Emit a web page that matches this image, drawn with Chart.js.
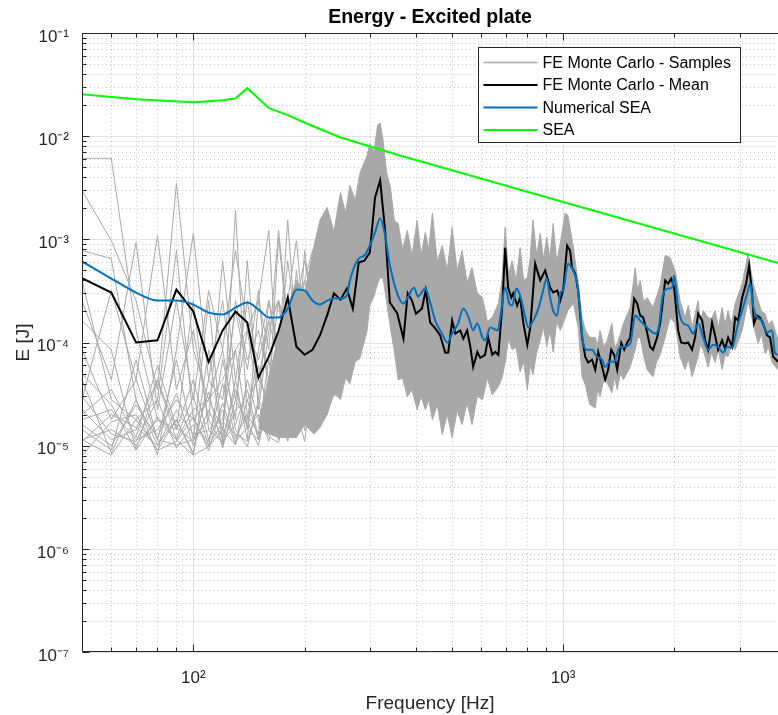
<!DOCTYPE html>
<html>
<head>
<meta charset="utf-8">
<title>Energy - Excited plate</title>
<script src="https://cdn.jsdelivr.net/npm/chart.js@4.4.1/dist/chart.umd.min.js"></script>
<style>
  html, body { margin: 0; padding: 0; background: #fff; }
  #wrap { width: 778px; height: 715px; }
</style>
</head>
<body>
<div id="wrap"><canvas id="myChart" width="778" height="715"></canvas></div>
<script>
// ---- data (frequency in Hz, energy in J) ----

// low-frequency Monte Carlo samples (individual curves)
const lowFreq = [50, 60, 70, 80, 90, 100, 110, 120, 130, 140, 150, 160, 170, 180, 190, 200, 210, 220, 230, 240, 250];
const lowSamples = [
  [6.1e-3, 6.1e-3, 1.31e-4, 1.79e-5, 1.14e-5, 2.23e-5, 2.79e-5, 4.36e-5, 8.5e-5, 1.31e-4, 6.8e-5, 1.63e-4, 2.55e-4, 1.31e-4, 2.04e-4, 3.19e-4, 2.55e-4, 4.0e-4, 2.55e-4, 5.0e-4, 3.19e-4],
  [2.98e-3, 9.7e-4, 2.55e-4, 3.49e-5, 3.49e-3, 8.5e-5, 2.79e-5, 1.43e-5, 2.55e-4, 6.8e-5, 1.31e-4, 4.36e-5, 2.55e-4, 8.5e-5, 3.19e-4, 1.63e-4, 2.55e-4, 3.19e-4, 6.2e-4, 2.04e-4, 7.8e-4],
  [7.8e-4, 6.5e-4, 2.79e-5, 1.02e-5, 1.79e-5, 8.5e-6, 4.36e-5, 2.55e-4, 2.79e-5, 1.31e-4, 2.79e-5, 2.55e-4, 8.5e-5, 6.2e-4, 1.31e-4, 4.0e-4, 2.04e-4, 5.0e-4, 1.63e-4, 4.0e-4, 2.55e-4],
  [2.55e-4, 4.36e-5, 9.3e-4, 2.23e-5, 2.55e-4, 2.79e-5, 3.19e-4, 8.5e-5, 7.8e-4, 1.31e-4, 2.55e-4, 8.5e-5, 1.22e-3, 1.63e-4, 2.55e-4, 6.2e-4, 2.55e-4, 4.0e-4, 7.8e-4, 2.55e-4, 5.0e-4],
  [8.5e-5, 1.79e-5, 4.36e-5, 1.09e-3, 3.49e-5, 1.31e-4, 1.79e-5, 6.2e-4, 4.36e-5, 2.55e-4, 4.36e-5, 1.63e-4, 6.8e-5, 2.55e-4, 9.7e-4, 1.31e-4, 3.19e-4, 2.55e-4, 4.0e-4, 7.8e-4, 2.55e-4],
  [4.36e-5, 8.5e-6, 2.79e-5, 8.1e-6, 8.5e-5, 1.14e-3, 4.36e-5, 2.79e-5, 2.04e-4, 5.45e-5, 3.19e-4, 2.79e-5, 1.05e-3, 1.31e-4, 2.55e-4, 4.0e-4, 7.8e-4, 5.0e-4, 2.04e-4, 6.2e-4, 4.0e-4],
  [2.23e-5, 1.14e-5, 1.43e-5, 4.36e-5, 1.14e-5, 8.1e-6, 8.5e-5, 1.14e-5, 1.91e-3, 1.79e-5, 8.5e-5, 2.55e-4, 6.8e-5, 1.53e-3, 1.05e-4, 2.55e-4, 4.0e-4, 3.19e-4, 9.7e-4, 2.55e-4, 6.2e-4],
  [1.79e-5, 2.23e-5, 1.14e-5, 1.43e-5, 2.79e-5, 1.79e-5, 9.8e-6, 6.8e-5, 1.79e-5, 6.2e-4, 2.23e-5, 1.31e-4, 2.55e-4, 4.36e-5, 5.0e-4, 8.5e-5, 6.2e-4, 6.2e-4, 2.55e-4, 4.0e-4, 7.8e-4],
  [1.43e-5, 9.1e-6, 6.8e-5, 1.14e-5, 1.02e-5, 1.14e-5, 1.79e-5, 1.02e-5, 4.36e-5, 1.14e-5, 2.55e-4, 1.22e-3, 2.79e-5, 1.31e-4, 5.45e-5, 7.8e-4, 1.63e-4, 7.8e-4, 3.19e-4, 1.31e-4, 4.0e-4],
  [1.14e-5, 1.43e-5, 1.02e-5, 1.79e-5, 1.43e-5, 4.36e-5, 1.14e-5, 2.23e-5, 1.02e-5, 2.79e-5, 1.14e-5, 4.36e-5, 1.79e-5, 2.55e-4, 3.49e-5, 1.31e-4, 2.55e-4, 6.2e-4, 2.55e-4, 5.0e-4, 2.04e-4],
  [4.0e-4, 2.79e-5, 1.79e-5, 2.79e-5, 7.8e-4, 1.79e-5, 2.79e-5, 8.5e-5, 1.43e-5, 9.8e-6, 2.79e-5, 1.79e-5, 4.36e-5, 8.5e-5, 1.31e-4, 8.5e-5, 3.19e-4, 4.46e-4, 1.31e-4, 3.19e-4, 6.2e-4],
  [1.14e-5, 8.1e-6, 1.79e-5, 9.1e-6, 1.79e-5, 8.1e-6, 9.8e-6, 1.43e-5, 1.02e-5, 4.36e-5, 1.79e-5, 1.22e-5, 1.07e-5, 2.79e-5, 6.8e-5, 2.55e-4, 1.31e-4, 3.19e-4, 5.0e-4, 2.04e-4, 3.19e-4],
  [1.63e-4, 8.5e-5, 9.1e-6, 4.36e-5, 1.43e-5, 2.55e-4, 1.43e-5, 1.79e-5, 8.5e-5, 1.43e-5, 1.14e-5, 2.23e-5, 1.31e-4, 1.14e-5, 2.23e-5, 5.45e-5, 1.05e-4, 2.55e-4, 8.5e-5, 2.55e-4, 1.31e-4],
  [2.79e-5, 3.19e-4, 4.36e-5, 1.14e-5, 6.8e-5, 1.14e-5, 2.55e-4, 1.02e-5, 2.23e-5, 2.79e-5, 4.36e-5, 2.79e-5, 1.14e-5, 2.55e-4, 1.79e-5, 2.79e-5, 8.5e-5, 2.04e-4, 1.31e-4, 6.8e-5, 2.55e-4],
  [1.6e-5, 1.0e-5, 2.5e-5, 1.2e-5, 3.2e-5, 1.0e-5, 2.2e-5, 1.2e-5, 3.5e-5, 1.5e-5, 6.0e-5, 1.8e-5, 9.0e-5, 2.5e-5, 1.5e-4, 4.5e-5, 2.0e-4, 8.0e-5, 3.0e-4, 1.5e-4, 2.0e-4],
  [3.0e-5, 1.3e-5, 1.1e-5, 2.8e-5, 9.5e-6, 1.6e-5, 1.1e-5, 4.0e-5, 1.2e-5, 2.0e-5, 1.3e-5, 7.0e-5, 1.5e-5, 4.0e-5, 1.0e-4, 3.0e-5, 1.2e-4, 6.0e-5, 2.0e-4, 1.0e-4, 3.5e-4],
  [1.1e-5, 2.0e-5, 1.5e-5, 1.0e-5, 2.2e-5, 1.3e-5, 1.4e-5, 1.1e-5, 1.6e-5, 3.5e-5, 1.2e-5, 2.0e-5, 6.0e-5, 1.8e-5, 4.0e-5, 2.0e-4, 5.0e-5, 1.5e-4, 6.0e-5, 2.5e-4, 1.2e-4],
  [5.0e-5, 2.5e-5, 9.0e-6, 1.9e-5, 1.2e-5, 3.0e-5, 1.0e-5, 1.7e-5, 1.3e-5, 1.1e-5, 2.5e-5, 1.4e-5, 2.2e-5, 1.1e-5, 8.0e-5, 1.4e-5, 7.0e-5, 3.5e-5, 1.1e-4, 4.0e-4, 1.8e-4],
  [2.0e-5, 3.5e-5, 1.2e-5, 6.0e-5, 1.5e-5, 1.1e-5, 3.3e-5, 9.5e-6, 2.8e-5, 1.7e-5, 1.0e-5, 3.0e-5, 1.2e-5, 5.0e-5, 1.2e-5, 9.0e-5, 2.0e-5, 1.0e-4, 4.0e-5, 1.8e-4, 5.0e-4],
  [8.0e-6, 1.7e-5, 2.0e-5, 9.0e-6, 1.1e-5, 1.9e-5, 9.0e-6, 2.6e-5, 1.1e-5, 1.5e-5, 2.0e-5, 1.1e-5, 3.5e-5, 1.3e-5, 2.2e-5, 1.1e-5, 4.5e-5, 2.2e-5, 7.0e-5, 3.0e-5, 1.4e-4]
];

// above ~150 Hz the samples form a dense band: its upper and lower edge
const bandFreq = [150, 160, 170, 190, 200, 212, 220, 230, 240, 250, 258, 265,
  274, 282, 295, 300, 308, 315, 320, 326, 333, 341,
  350, 358, 368, 379, 390, 403, 413, 424, 433, 443,
  457, 471, 486, 501, 517, 533, 550, 567, 586, 605,
  624, 643, 668, 683, 697, 712, 728, 746, 765, 782,
  800, 814, 829, 848, 867, 885, 903, 921, 940, 961,
  982, 1012, 1030, 1066, 1098, 1125, 1150, 1180, 1221, 1240,
  1258, 1290, 1316, 1354, 1378, 1400, 1428, 1455, 1518, 1566,
  1590, 1615, 1650, 1687, 1750, 1790, 1829, 1887, 1946, 2008,
  2071, 2137, 2180, 2232, 2317, 2350, 2391, 2466, 2520, 2575,
  2630, 2690, 2740, 2793, 2850, 2918, 3048, 3163, 3263, 3366,
  3440, 3516, 3590, 3672, 3811];
const bandUpper = [1.7e-5, 4.5e-5, 1.2e-4, 4.0e-4, 3.0e-4, 8.7e-4, 1.53e-3, 2.04e-3, 1.2e-3, 2.85e-3, 1.8e-3, 3.33e-3,
  2.4e-3, 4.36e-3, 6.5e-3, 8.5e-3, 7.0e-3, 1.28e-2, 1.34e-2, 9.1e-3, 4.5e-3, 3.19e-3,
  1.5e-3, 1.43e-3, 8.0e-4, 1.22e-3, 7.0e-4, 1.53e-3, 7.0e-4, 1.17e-3, 8.0e-4, 1.79e-3,
  6.0e-4, 8.7e-4, 5.0e-4, 1.31e-3, 5.0e-4, 7.8e-4, 3.8e-4, 5.3e-4, 3.0e-4, 2.73e-4,
  1.6e-4, 1.75e-4, 2.39e-4, 4.0e-4, 1.31e-3, 4.5e-4, 6.2e-4, 4.0e-4, 8.3e-4, 4.0e-4,
  4.26e-4, 6.5e-4, 1.53e-3, 7.0e-4, 1.14e-3, 6.5e-4, 1.05e-3, 6.5e-4, 1.43e-3, 6.0e-4,
  9.1e-4, 1.79e-3, 1.71e-3, 8.3e-4, 3.73e-4, 1.75e-4, 1.3e-4, 1.12e-4, 1.12e-4, 9.5e-5,
  1.31e-4, 9.0e-5, 1.05e-4, 1.53e-4, 9.0e-5, 9.8e-5, 1.2e-4, 1.53e-4, 2.18e-4, 5.3e-4,
  3.2e-4, 3.99e-4, 2.5e-4, 2.73e-4, 2.18e-4, 2.8e-4, 3.57e-4, 6.96e-4, 6.66e-4, 4.98e-4,
  2.55e-4, 1.75e-4, 2.3e-4, 1.40e-4, 2.55e-4, 1.6e-4, 2.04e-4, 1.75e-4, 1.7e-4, 2.04e-4,
  1.4e-4, 2.18e-4, 1.5e-4, 2.04e-4, 1.5e-4, 2.39e-4, 3.73e-4, 7.3e-4, 3.73e-4, 2.55e-4,
  2.0e-4, 1.91e-4, 1.5e-4, 1.63e-4, 1.05e-4];
const bandLower = [1.5e-5, 1.3e-5, 1.2e-5, 1.2e-5, 1.6e-5, 1.3e-5, 1.5e-5, 2.0e-5, 3.2e-5, 2.8e-5, 4.5e-5, 4.0e-5,
  6.5e-5, 7.0e-5, 1.3e-4, 2.28e-4, 2.8e-4, 3.73e-4, 4.26e-4, 4.17e-4, 2.5e-4, 1.40e-4,
  8.0e-5, 4.36e-5, 4.5e-5, 2.98e-5, 3.5e-5, 2.23e-5, 3.0e-5, 2.23e-5, 2.8e-5, 1.79e-5,
  2.5e-5, 1.28e-5, 2.0e-5, 1.2e-5, 2.2e-5, 1.6e-5, 2.6e-5, 1.6e-5, 3.0e-5, 2.79e-5,
  4.5e-5, 3.12e-5, 3.73e-5, 4.5e-5, 6.4e-5, 1.1e-4, 8.5e-5, 9.0e-5, 5.2e-5, 6.5e-5,
  3.49e-5, 6.0e-5, 4.87e-5, 8.0e-5, 1.05e-4, 1.4e-4, 9.1e-5, 1.3e-4, 8.1e-5, 1.6e-4,
  1.31e-4, 1.71e-4, 2.04e-4, 2.39e-4, 1.40e-4, 4.66e-5, 3.8e-5, 2.5e-5, 2.33e-5, 3.5e-5,
  2.98e-5, 4.5e-5, 4.08e-5, 3.26e-5, 4.6e-5, 3.49e-5, 5.0e-5, 4.36e-5, 5.8e-5, 8.5e-5,
  1.1e-4, 1.12e-4, 7.5e-5, 5.45e-5, 4.66e-5, 6.5e-5, 7.6e-5, 1.12e-4, 1.75e-4, 1.53e-4,
  7.3e-5, 5.45e-5, 7.0e-5, 4.66e-5, 7.3e-5, 9.5e-5, 8.5e-5, 5.8e-5, 8.0e-5, 6.4e-5,
  8.5e-5, 5.45e-5, 7.5e-5, 7.3e-5, 9.5e-5, 8.5e-5, 1.31e-4, 2.55e-4, 1.53e-4, 9.8e-5,
  1.2e-4, 7.8e-5, 9.0e-5, 6.4e-5, 5.45e-5];

// FE Monte Carlo mean
const meanFreq = [50, 60, 70, 80, 90, 100, 110, 120, 130, 140, 150, 160, 170, 180, 190, 200, 210, 220, 230, 240,
  250, 260, 270, 280, 290, 300, 310, 320, 330, 340, 356, 370, 380, 390, 400, 415, 425, 437, 451, 465,
  480, 489, 501, 511, 527, 537, 550, 561, 571, 586, 597, 615, 627, 643, 655, 668, 684, 697, 710, 724,
  733, 751, 765, 780, 800, 815, 840, 867, 894, 922, 940, 964, 982, 1000, 1025, 1044, 1057, 1077, 1098, 1125,
  1147, 1168, 1197, 1221, 1244, 1275, 1299, 1323, 1349, 1374, 1400, 1436, 1462, 1490, 1518, 1556, 1585, 1615, 1646, 1687,
  1718, 1750, 1795, 1829, 1852, 1887, 1923, 1959, 1996, 2046, 2084, 2137, 2177, 2232, 2274, 2317, 2376, 2421, 2466, 2527,
  2575, 2624, 2690, 2741, 2793, 2864, 2918, 2973, 3048, 3124, 3183, 3243, 3281, 3343, 3406, 3471, 3559, 3626, 3695, 3811];
const meanE = [4.2e-4, 3.05e-4, 1.0e-4, 1.05e-4, 3.26e-4, 2.0e-4, 6.5e-5, 1.31e-4, 2.0e-4, 1.56e-4, 4.56e-5, 7.3e-5, 1.3e-4, 2.73e-4, 9.1e-5, 7.6e-5, 8.5e-5, 1.17e-4, 1.83e-4, 3.0e-4,
  2.6e-4, 3.33e-4, 2.13e-4, 5.96e-4, 6.2e-4, 7.44e-4, 2.55e-3, 3.73e-3, 1.22e-3, 2.44e-4, 1.91e-4, 1.09e-4, 3.0e-4, 2.55e-4, 1.9e-4, 2.13e-4, 3.2e-4, 1.56e-4, 1.37e-4, 1.17e-4,
  7.96e-5, 8.0e-5, 1.63e-4, 1.22e-4, 1.31e-4, 1.09e-4, 1.31e-4, 9.1e-5, 5.8e-5, 8.1e-5, 7.1e-5, 7.6e-5, 1.12e-4, 7.6e-5, 8.1e-5, 7.6e-5, 2.18e-4, 8.3e-4, 3.41e-4, 2.73e-4,
  3.0e-4, 2.28e-4, 2.73e-4, 1.56e-4, 9.5e-5, 1.40e-4, 5.8e-4, 4.0e-4, 5.0e-4, 3.41e-4, 3.05e-4, 3.2e-4, 2.55e-4, 3.2e-4, 8.7e-4, 7.8e-4, 5.3e-4, 4.7e-4, 3.2e-4, 1.12e-4,
  7.3e-5, 6.4e-5, 6.8e-5, 5.45e-5, 8.1e-5, 5.8e-5, 4.36e-5, 5.45e-5, 8.5e-5, 7.6e-5, 5.45e-5, 9.9e-5, 8.5e-5, 1.0e-4, 1.12e-4, 2.67e-4, 2.39e-4, 1.83e-4, 1.75e-4, 1.25e-4,
  9.1e-5, 8.5e-5, 1.12e-4, 1.53e-4, 2.18e-4, 3.99e-4, 3.73e-4, 4.17e-4, 3.41e-4, 1.31e-4, 1.0e-4, 9.8e-5, 1.0e-4, 8.5e-5, 1.12e-4, 1.91e-4, 1.63e-4, 1.05e-4, 8.5e-5, 1.56e-4,
  1.17e-4, 8.5e-5, 1.05e-4, 8.7e-5, 1.12e-4, 9.1e-5, 1.75e-4, 1.63e-4, 2.73e-4, 3.73e-4, 5.6e-4, 3.0e-4, 1.53e-4, 1.83e-4, 1.75e-4, 1.53e-4, 1.17e-4, 1.12e-4, 7.3e-5, 6.5e-5];

// Numerical SEA
const numFreq = [50, 60, 70, 80, 90, 100, 110, 120, 130, 140, 150, 160, 170, 180, 190, 200, 210, 220, 230, 240,
  250, 260, 265, 280, 290, 300, 310, 320, 330, 340, 356, 370, 380, 395, 405, 424, 437, 451, 470, 486,
  501, 520, 537, 555, 571, 586, 605, 615, 635, 665, 676, 697, 715, 728, 747, 765, 790, 805, 830, 857,
  880, 903, 922, 940, 964, 982, 1000, 1030, 1057, 1090, 1111, 1130, 1160, 1197, 1232, 1275, 1299, 1336, 1374, 1418,
  1462, 1518, 1566, 1615, 1666, 1718, 1773, 1806, 1864, 1923, 1972, 1996, 2046, 2113, 2177, 2246, 2317, 2391, 2466, 2544,
  2624, 2707, 2776, 2864, 2954, 3048, 3144, 3203, 3263, 3343, 3449, 3559, 3672, 3735, 3811];
const numE = [6.1e-4, 4.17e-4, 3.05e-4, 2.55e-4, 2.55e-4, 2.33e-4, 1.95e-4, 1.87e-4, 2.18e-4, 2.44e-4, 2.09e-4, 1.75e-4, 1.75e-4, 2.13e-4, 3.26e-4, 3.19e-4, 2.55e-4, 2.33e-4, 2.55e-4, 2.67e-4,
  2.67e-4, 2.85e-4, 3.99e-4, 6.5e-4, 6.96e-4, 8.7e-4, 1.17e-3, 1.6e-3, 1.09e-3, 5.6e-4, 2.98e-4, 2.39e-4, 2.73e-4, 3.41e-4, 2.79e-4, 3.33e-4, 2.44e-4, 1.63e-4, 1.22e-4, 1.0e-4,
  1.22e-4, 1.53e-4, 2.13e-4, 1.75e-4, 1.31e-4, 1.53e-4, 1.12e-4, 1.05e-4, 1.40e-4, 1.31e-4, 1.75e-4, 3.41e-4, 2.39e-4, 2.28e-4, 3.33e-4, 2.85e-4, 1.75e-4, 1.40e-4, 1.63e-4, 2.13e-4,
  3.05e-4, 4.17e-4, 2.73e-4, 2.04e-4, 1.83e-4, 3.05e-4, 3.19e-4, 5.8e-4, 5.2e-4, 3.81e-4, 2.04e-4, 1.05e-4, 8.5e-5, 8.5e-5, 7.3e-5, 6.8e-5, 5.8e-5, 6.5e-5, 6.5e-5, 8.9e-5,
  9.1e-5, 9.8e-5, 1.83e-4, 1.63e-4, 1.46e-4, 1.31e-4, 1.22e-4, 1.31e-4, 2.98e-4, 3.33e-4, 3.41e-4, 4.46e-4, 2.18e-4, 1.53e-4, 1.46e-4, 1.22e-4, 1.53e-4, 1.12e-4, 8.5e-5, 9.5e-5,
  9.1e-5, 8.0e-5, 9.1e-5, 8.9e-5, 1.40e-4, 2.04e-4, 2.98e-4, 3.73e-4, 2.28e-4, 1.75e-4, 1.63e-4, 1.25e-4, 1.31e-4, 8.0e-5, 7.6e-5];

// analytical SEA
const seaFreq = [50, 70, 100, 120, 130, 140, 160, 180, 200, 250, 362, 1000, 3811];
const seaE = [2.55e-2, 2.28e-2, 2.13e-2, 2.23e-2, 2.33e-2, 2.92e-2, 1.87e-2, 1.6e-2, 1.35e-2, 9.7e-3, 6.5e-3, 2.3e-3, 5.9e-4];

const xTicks = [100, 1000];
const yTicks = [1e-7, 1e-6, 1e-5, 1e-4, 1e-3, 1e-2, 1e-1];

// ---- drawing ----
const FONT = '"Liberation Sans", Arial, Helvetica, sans-serif';
const AX = '#262626';
const GRAY = '#a8a8a8';
Chart.defaults.font.family = FONT;
Chart.defaults.color = AX;

const supChars = {'-': '\u207B', '0': '\u2070', '1': '\u00B9', '2': '\u00B2', '3': '\u00B3', '4': '\u2074',
  '5': '\u2075', '6': '\u2076', '7': '\u2077', '8': '\u2078', '9': '\u2079'};
function powLabel(v) {
  const e = Math.round(Math.log10(v));
  return '10' + String(e).split('').map(c => supChars[c]).join('');
}

function pts(xs, ys) {
  return xs.map((f, i) => ({x: f, y: ys[i]}));
}

const datasets = [];
datasets.push({
  label: 'FE Monte Carlo - Samples', data: pts(bandFreq, bandUpper),
  borderColor: GRAY, backgroundColor: GRAY, borderWidth: 1, fill: '+1', order: 5
});
datasets.push({
  label: 'FE Monte Carlo - Samples', data: pts(bandFreq, bandLower),
  borderColor: GRAY, borderWidth: 1, fill: false, order: 5
});
lowSamples.forEach(s => {
  datasets.push({
    label: 'FE Monte Carlo - Samples', data: pts(lowFreq, s),
    borderColor: GRAY, borderWidth: 1, fill: false, order: 4
  });
});
datasets.push({
  label: 'FE Monte Carlo - Mean', data: pts(meanFreq, meanE),
  borderColor: '#000000', borderWidth: 2, fill: false, order: 2
});
datasets.push({
  label: 'Numerical SEA', data: pts(numFreq, numE),
  borderColor: '#0072BD', borderWidth: 2, fill: false, order: 1, cubicInterpolationMode: 'monotone'
});
datasets.push({
  label: 'SEA', data: pts(seaFreq, seaE),
  borderColor: '#00FF00', borderWidth: 2, fill: false, order: 0
});

function minorValues(lo, hi) {
  const out = [];
  for (let d = Math.pow(10, Math.floor(Math.log10(lo))); d < hi; d *= 10) {
    for (let m = 2; m <= 9; m++) {
      const v = m * d;
      if (v > lo && v < hi) out.push(v);
    }
  }
  return out;
}

// MATLAB-like grid, axis box with inward ticks, and the legend inside the axes
const matlabAxes = {
  id: 'matlabAxes',
  beforeDatasetsDraw(chart) {
    const {ctx, chartArea: a, scales: {x, y}} = chart;
    ctx.save();
    ctx.lineWidth = 1;
    ctx.strokeStyle = '#c6c6c6';
    ctx.setLineDash([1, 3]);
    minorValues(x.min, x.max).forEach(v => {
      const px = Math.round(x.getPixelForValue(v)) + 0.5;
      ctx.beginPath(); ctx.moveTo(px, a.top); ctx.lineTo(px, a.bottom); ctx.stroke();
    });
    minorValues(y.min, y.max).forEach(v => {
      const py = Math.round(y.getPixelForValue(v)) + 0.5;
      ctx.beginPath(); ctx.moveTo(a.left, py); ctx.lineTo(a.right, py); ctx.stroke();
    });
    ctx.setLineDash([]);
    ctx.strokeStyle = '#e2e2e2';
    xTicks.forEach(v => {
      const px = Math.round(x.getPixelForValue(v)) + 0.5;
      ctx.beginPath(); ctx.moveTo(px, a.top); ctx.lineTo(px, a.bottom); ctx.stroke();
    });
    yTicks.forEach(v => {
      const py = Math.round(y.getPixelForValue(v)) + 0.5;
      ctx.beginPath(); ctx.moveTo(a.left, py); ctx.lineTo(a.right, py); ctx.stroke();
    });
    ctx.restore();
  },
  afterDatasetsDraw(chart) {
    const {ctx, chartArea: a, scales: {x, y}} = chart;
    const L = Math.round(a.left) + 0.5, T = Math.round(a.top) + 0.5, B = Math.round(a.bottom) - 0.5;
    ctx.save();
    ctx.strokeStyle = AX;
    ctx.lineWidth = 1;
    ctx.beginPath();
    ctx.moveTo(a.right, T); ctx.lineTo(L, T); ctx.lineTo(L, B); ctx.lineTo(a.right, B);
    ctx.stroke();
    const tick = (x0, y0, x1, y1) => { ctx.beginPath(); ctx.moveTo(x0, y0); ctx.lineTo(x1, y1); ctx.stroke(); };
    xTicks.forEach(v => {
      const px = Math.round(x.getPixelForValue(v)) + 0.5;
      tick(px, B, px, B - 7); tick(px, T, px, T + 7);
    });
    minorValues(x.min, x.max).forEach(v => {
      const px = Math.round(x.getPixelForValue(v)) + 0.5;
      tick(px, B, px, B - 4); tick(px, T, px, T + 4);
    });
    yTicks.forEach(v => {
      const py = Math.round(y.getPixelForValue(v)) + 0.5;
      tick(L, py, L + 7, py);
    });
    minorValues(y.min, y.max).forEach(v => {
      const py = Math.round(y.getPixelForValue(v)) + 0.5;
      tick(L, py, L + 4, py);
    });
    ctx.restore();
  },
  afterDraw(chart) {
    const ctx = chart.ctx;
    const items = [];
    chart.data.datasets.forEach(ds => {
      if (!items.find(it => it.text === ds.label)) {
        items.push({text: ds.label, color: ds.borderColor, width: ds.borderWidth});
      }
    });
    const bx = 478.5, by = 47.5, bw = 262, bh = 95;
    ctx.save();
    ctx.fillStyle = '#ffffff';
    ctx.fillRect(bx, by, bw, bh);
    ctx.strokeStyle = AX;
    ctx.lineWidth = 1;
    ctx.strokeRect(bx, by, bw, bh);
    ctx.font = '16px ' + FONT;
    ctx.textBaseline = 'middle';
    ctx.textAlign = 'left';
    items.forEach((it, i) => {
      const ry = by + 15 + i * 22.5;
      ctx.strokeStyle = it.color;
      ctx.lineWidth = it.width === 1 ? 1.5 : 2;
      ctx.beginPath(); ctx.moveTo(bx + 5, ry); ctx.lineTo(bx + 59, ry); ctx.stroke();
      ctx.fillStyle = '#000000';
      ctx.fillText(it.text, bx + 64, ry + 1);
    });
    ctx.restore();
  }
};

const config = {
  type: 'line',
  data: {datasets: datasets},
  options: {
    responsive: false,
    devicePixelRatio: 1,
    animation: false,
    events: [],
    layout: {padding: 0},
    elements: {point: {radius: 0}, line: {tension: 0}},
    plugins: {
      legend: {display: false},
      tooltip: {enabled: false},
      title: {
        display: true,
        text: 'Energy - Excited plate',
        color: '#000000',
        fullSize: false,
        font: {size: 19.5, weight: 'bold', lineHeight: 1.2},
        padding: {top: 6, bottom: 3.6}
      }
    },
    scales: {
      x: {
        type: 'logarithmic',
        min: 50, max: 3810,
        grid: {display: false},
        border: {display: false},
        afterBuildTicks: s => { s.ticks = xTicks.map(v => ({value: v})); },
        afterFit: s => { s.height = 63; },
        ticks: {callback: v => powLabel(v), font: {size: 17}, padding: 8, maxRotation: 0, autoSkip: false, color: AX},
        title: {display: true, text: 'Frequency [Hz]', font: {size: 19}, color: AX, padding: {top: 0, bottom: 0}}
      },
      y: {
        type: 'logarithmic',
        min: 1e-7, max: 1e-1,
        grid: {display: false},
        border: {display: false},
        afterBuildTicks: s => { s.ticks = yTicks.map(v => ({value: v})); },
        afterFit: s => { s.width = 82; },
        ticks: {callback: v => powLabel(v), font: {size: 17}, padding: 5, labelOffset: 4, autoSkip: false, color: AX},
        title: {display: true, text: 'E [J]', font: {size: 19}, color: AX, padding: {top: 12, bottom: 0}}
      }
    }
  },
  plugins: [matlabAxes]
};

const chart = new Chart('myChart', config);
</script>
</body>
</html>
